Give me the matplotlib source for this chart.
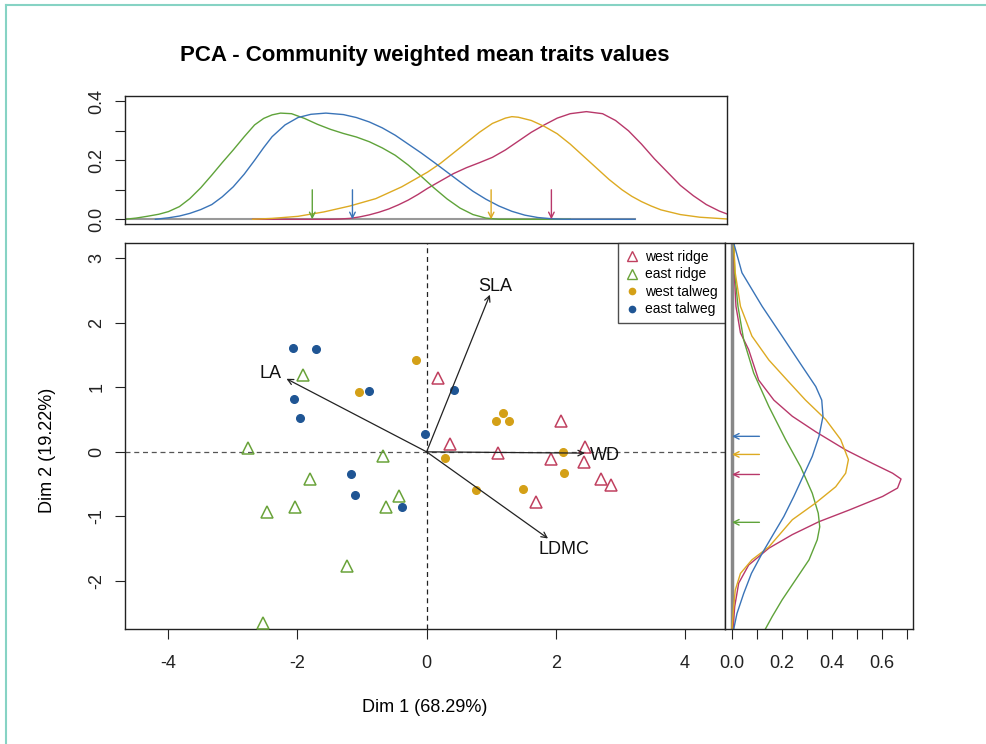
import matplotlib
matplotlib.use("Agg")
import matplotlib.pyplot as plt
from matplotlib.lines import Line2D

plt.rcParams['font.family'] = ['Liberation Sans', 'DejaVu Sans']
plt.rcParams['axes.unicode_minus'] = False

# ---------------- data ----------------
groups = ['west ridge', 'east ridge', 'west talweg', 'east talweg']
group_colors = ['#C0405F', '#6AA33A', '#D4A017', '#1F5594']
curve_colors = ['#B8386A', '#5FA33A', '#DDAA22', '#3A74B8']

west_ridge_x = [0.17, 0.36, 1.10, 1.70, 1.93, 2.08, 2.46, 2.43, 2.70, 2.86]
west_ridge_y = [1.14, 0.12, -0.02, -0.77, -0.11, 0.48, 0.07, -0.15, -0.42, -0.51]
east_ridge_x = [-1.91, -2.77, -0.68, -1.80, -0.43, -0.63, -2.04, -2.47, -1.24, -2.53]
east_ridge_y = [1.19, 0.06, -0.06, -0.42, -0.69, -0.85, -0.85, -0.93, -1.76, -2.65]
west_talweg_x = [-0.16, -1.04, 0.29, 0.76, 1.50, 2.11, 2.12, 1.18, 1.08, 1.28]
west_talweg_y = [1.42, 0.92, -0.10, -0.59, -0.57, -0.01, -0.32, 0.60, 0.48, 0.47]
east_talweg_x = [-2.07, -1.72, -0.89, -2.06, -1.96, -0.02, 0.43, -1.17, -1.11, -0.38]
east_talweg_y = [1.60, 1.59, 0.94, 0.82, 0.52, 0.27, 0.95, -0.34, -0.67, -0.86]

variables = ['LA', 'SLA', 'WD', 'LDMC']
var_x = [-2.17, 0.98, 2.45, 1.88]
var_y = [1.13, 2.43, -0.02, -1.34]
var_label_x = [-2.42, 1.06, 2.76, 2.12]
var_label_y = [1.21, 2.56, -0.05, -1.51]

# top-panel densities (Dim 1)
top_red_x = [-2.7, -1.5, -1.35, -1.2, -1.05, -0.9, -0.75, -0.6, -0.45, -0.3, -0.15, 0.0, 0.2, 0.4,
             0.6, 0.8, 1.0, 1.2, 1.4, 1.6, 1.8, 2.0, 2.2, 2.45, 2.7, 2.9, 3.1, 3.3, 3.5, 3.7,
             3.9, 4.1, 4.3, 4.5, 4.62]
top_red_d = [0.0, 0.0, 0.001, 0.003, 0.008, 0.015, 0.024, 0.035, 0.049, 0.065, 0.084, 0.105,
             0.13, 0.155, 0.175, 0.192, 0.21, 0.235, 0.265, 0.295, 0.32, 0.343, 0.358, 0.365,
             0.358, 0.335, 0.30, 0.255, 0.205, 0.16, 0.115, 0.08, 0.05, 0.028, 0.018]
top_green_x = [-4.67, -4.5, -4.33, -4.15, -4.0, -3.83, -3.67, -3.5, -3.33, -3.17, -3.0, -2.83,
               -2.67, -2.53, -2.4, -2.27, -2.1, -1.9, -1.7, -1.5, -1.3, -1.1, -0.9, -0.7, -0.5,
               -0.3, -0.1, 0.1, 0.3, 0.5, 0.7, 0.9, 1.1, 2.2]
top_green_d = [0.0, 0.004, 0.01, 0.017, 0.026, 0.043, 0.07, 0.107, 0.15, 0.192, 0.235, 0.28,
               0.32, 0.342, 0.354, 0.36, 0.358, 0.342, 0.322, 0.305, 0.291, 0.279, 0.263, 0.242,
               0.217, 0.184, 0.146, 0.106, 0.069, 0.038, 0.016, 0.004, 0.0, 0.0]
top_yellow_x = [-2.7, -2.4, -2.0, -1.6, -1.2, -0.8, -0.4, -0.2, 0.0, 0.2, 0.4, 0.6, 0.8, 1.0, 1.2,
                1.3, 1.4, 1.6, 1.8, 2.0, 2.2, 2.4, 2.6, 2.8, 3.0, 3.15, 3.3, 3.45, 3.6, 3.9,
                4.2, 4.62]
top_yellow_d = [0.0, 0.003, 0.01, 0.025, 0.045, 0.07, 0.11, 0.135, 0.16, 0.19, 0.225, 0.26, 0.295,
                0.325, 0.343, 0.348, 0.346, 0.335, 0.315, 0.29, 0.255, 0.215, 0.175, 0.135, 0.10,
                0.078, 0.06, 0.045, 0.032, 0.016, 0.007, 0.001]
top_blue_x = [-4.2, -4.0, -3.83, -3.67, -3.5, -3.33, -3.17, -3.0, -2.83, -2.67, -2.53, -2.4, -2.2,
              -2.0, -1.8, -1.57, -1.3, -1.1, -0.9, -0.7, -0.5, -0.3, -0.1, 0.1, 0.3, 0.5, 0.7,
              0.9, 1.1, 1.3, 1.5, 1.7, 1.9, 2.1, 3.2]
top_blue_d = [0.0, 0.005, 0.011, 0.02, 0.033, 0.05, 0.076, 0.11, 0.153, 0.20, 0.243, 0.28, 0.32,
              0.345, 0.356, 0.36, 0.355, 0.345, 0.33, 0.31, 0.285, 0.255, 0.225, 0.193, 0.16,
              0.127, 0.095, 0.068, 0.045, 0.027, 0.014, 0.006, 0.002, 0.0, 0.0]
top_arrow_x = [1.91, -1.78, 0.98, -1.16]   # red, green, yellow, blue

# right-panel densities (Dim 2)
right_red_y = [3.23, 2.77, 2.25, 1.84, 1.58, 1.11, 0.80, 0.55, 0.31, 0.03, -0.18, -0.33, -0.42,
               -0.56, -0.69, -0.90, -1.08, -1.28, -1.49, -1.75, -2.03, -2.39, -2.74]
right_red_d = [0.007, 0.009, 0.016, 0.034, 0.067, 0.107, 0.168, 0.242, 0.336, 0.456, 0.564,
               0.644, 0.678, 0.664, 0.604, 0.47, 0.349, 0.242, 0.148, 0.067, 0.027, 0.011, 0.004]
right_green_y = [3.23, 2.77, 2.25, 1.73, 1.22, 0.70, 0.19, -0.23, -0.64, -0.95, -1.16, -1.36,
                 -1.67, -1.98, -2.29, -2.55, -2.74]
right_green_d = [0.007, 0.011, 0.024, 0.047, 0.087, 0.148, 0.215, 0.275, 0.322, 0.346, 0.352,
                 0.342, 0.309, 0.255, 0.201, 0.161, 0.134]
right_yellow_y = [3.23, 2.77, 2.25, 1.79, 1.42, 1.11, 0.80, 0.50, 0.19, -0.12, -0.33, -0.54,
                  -0.79, -1.05, -1.47, -1.67, -1.88, -2.14, -2.39, -2.74]
right_yellow_d = [0.007, 0.013, 0.034, 0.08, 0.148, 0.221, 0.295, 0.376, 0.436, 0.467, 0.456,
                  0.416, 0.336, 0.242, 0.148, 0.08, 0.034, 0.013, 0.007, 0.0]
right_blue_y = [3.23, 2.77, 2.25, 1.79, 1.32, 1.01, 0.80, 0.55, 0.24, -0.07, -0.38, -0.69, -1.0,
                -1.26, -1.57, -1.88, -2.19, -2.50, -2.74]
right_blue_d = [0.007, 0.04, 0.121, 0.201, 0.282, 0.336, 0.36, 0.365, 0.349, 0.322, 0.285, 0.248,
                0.208, 0.168, 0.121, 0.078, 0.047, 0.02, 0.007]
right_arrow_y = [-0.35, -1.09, -0.04, 0.24]   # red, green, yellow, blue

title = 'PCA - Community weighted mean traits values'
xlabel = 'Dim 1 (68.29%)'
ylabel = 'Dim 2 (19.22%)'

# ---------------- figure ----------------
W, H = 986, 744
fig = plt.figure(figsize=(W / 100, H / 100), dpi=100)


def box(l, t, r, b):
    return [l / W, 1 - b / H, (r - l) / W, (b - t) / H]


ax = fig.add_axes(box(125, 243, 725, 629))
axt = fig.add_axes(box(125, 96, 727, 224))
axr = fig.add_axes(box(725, 243, 913, 629))

XL = (-4.67, 4.62)
YL = (-2.74, 3.23)

for a in (ax, axt, axr):
    for s in a.spines.values():
        s.set_linewidth(1.0)
        s.set_color('#222222')
    a.tick_params(direction='out', length=7, width=0.8, colors='#222222', labelsize=13)

# main panel
ax.axhline(0, color='#555555', lw=0.9, ls=(0, (4, 3)), zorder=1)
ax.axvline(0, color='#222222', lw=0.9, ls=(0, (4, 3)), zorder=1)

pts = [(west_ridge_x, west_ridge_y, '^'), (east_ridge_x, east_ridge_y, '^'),
       (west_talweg_x, west_talweg_y, 'o'), (east_talweg_x, east_talweg_y, 'o')]
for (xs, ys, m), c in zip(pts, group_colors):
    if m == '^':
        ax.plot(xs, ys, ls='none', marker='^', ms=9, mfc='none', mec=c, mew=1.1, zorder=3)
    else:
        ax.plot(xs, ys, ls='none', marker='o', ms=5.5, mfc=c, mec=c, zorder=3)

for vx, vy, lx, ly, name in zip(var_x, var_y, var_label_x, var_label_y, variables):
    ax.annotate('', xy=(vx, vy), xytext=(0, 0),
                arrowprops=dict(arrowstyle='->', color='#222222', lw=0.9,
                                mutation_scale=10, shrinkA=0, shrinkB=0), zorder=4)
    ax.text(lx, ly, name, fontsize=13, ha='center', va='center', color='#111111')

ax.set_xlim(*XL)
ax.set_ylim(*YL)
ax.set_xticks([-4, -2, 0, 2, 4])
ax.set_yticks([-2, -1, 0, 1, 2, 3])
ax.tick_params(axis='x', pad=12)
ax.tick_params(axis='y', pad=7, labelrotation=90)
for lab in ax.get_yticklabels():
    lab.set_va('center')

handles = []
for c, m in zip(group_colors, ['^', '^', 'o', 'o']):
    if m == '^':
        handles.append(Line2D([], [], ls='none', marker='^', ms=7, mfc='none', mec=c, mew=1))
    else:
        handles.append(Line2D([], [], ls='none', marker='o', ms=4.5, mfc=c, mec=c))
leg = ax.legend(handles, groups, loc='upper right', bbox_to_anchor=(1, 1), borderaxespad=0,
                fontsize=10, frameon=True, fancybox=False, handlelength=1.0,
                handletextpad=0.5, labelspacing=0.25, borderpad=0.5)
leg.get_frame().set_edgecolor('#222222')
leg.get_frame().set_linewidth(1.0)

# top panel
axt.plot([XL[0], 3.2], [0, 0], color='#999999', lw=1.5, zorder=1)
top_curves = [(top_red_x, top_red_d), (top_green_x, top_green_d),
              (top_yellow_x, top_yellow_d), (top_blue_x, top_blue_d)]
for (xs, ds), c in zip(top_curves, curve_colors):
    axt.plot(xs, ds, color=c, lw=1.0, zorder=2)
for xa, c in zip(top_arrow_x, curve_colors):
    axt.annotate('', xy=(xa, 0), xytext=(xa, 0.1),
                 arrowprops=dict(arrowstyle='->', color=c, lw=1.0, mutation_scale=10,
                                 shrinkA=0, shrinkB=0))
axt.set_xlim(*XL)
axt.set_ylim(-0.016, 0.418)
axt.set_xticks([])
axt.set_yticks([0.0, 0.1, 0.2, 0.3, 0.4])
axt.set_yticklabels(['0.0', '', '0.2', '', '0.4'])
axt.tick_params(axis='y', pad=7, labelrotation=90)
for lab in axt.get_yticklabels():
    lab.set_va('center')

# right panel
axr.axvline(0, color='#888888', lw=2.5, zorder=1)
right_curves = [(right_red_d, right_red_y), (right_green_d, right_green_y),
                (right_yellow_d, right_yellow_y), (right_blue_d, right_blue_y)]
for (ds, ys), c in zip(right_curves, curve_colors):
    axr.plot(ds, ys, color=c, lw=1.0, zorder=2)
for ya, c in zip(right_arrow_y, curve_colors):
    axr.annotate('', xy=(0, ya), xytext=(0.11, ya),
                 arrowprops=dict(arrowstyle='->', color=c, lw=1.0, mutation_scale=10,
                                 shrinkA=0, shrinkB=0))
axr.set_ylim(*YL)
axr.set_xlim(-0.028, 0.726)
axr.set_yticks([])
axr.set_xticks([0.0, 0.1, 0.2, 0.3, 0.4, 0.5, 0.6, 0.7])
axr.set_xticklabels(['0.0', '', '0.2', '', '0.4', '', '0.6', ''])
axr.tick_params(axis='x', pad=12)

# texts
fig.text(425 / W, 1 - 55 / H, title, ha='center', va='center', fontsize=16, fontweight='bold')
fig.text(425 / W, 1 - 707 / H, xlabel, ha='center', va='center', fontsize=13)
fig.text(47 / W, 1 - 450 / H, ylabel, ha='center', va='center', fontsize=13, rotation=90)

# teal outer frame
fig.add_artist(Line2D([6 / W, 6 / W], [0, 1 - 5 / H], transform=fig.transFigure,
                      color='#86D3C4', lw=1.5))
fig.add_artist(Line2D([6 / W, 1], [1 - 5 / H, 1 - 5 / H], transform=fig.transFigure,
                      color='#86D3C4', lw=1.5))

fig.savefig('out.png', dpi=100)
